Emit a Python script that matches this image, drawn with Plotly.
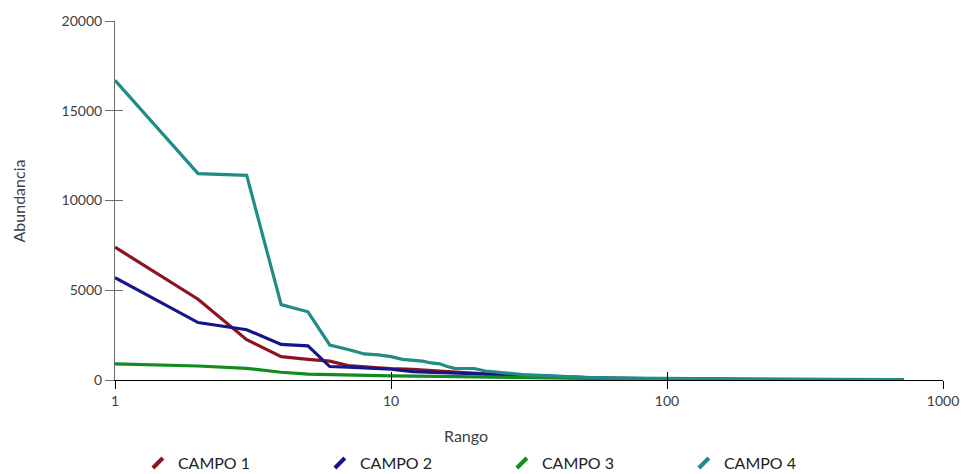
import plotly.graph_objects as go

# Rank-abundance data per field (rank -> abundance)
rank_c1 = [1, 2, 3, 4, 5, 6, 7, 8, 9, 10, 12, 15, 18, 22, 25, 30, 40, 60, 100, 200, 400, 720]
abund_c1 = [7400, 4500, 2250, 1300, 1150, 1050, 800, 720, 680, 640, 600, 500, 420, 340, 300, 220, 150, 90, 50, 25, 10, 3]

rank_c2 = [1, 2, 3, 4, 5, 6, 7, 8, 10, 12, 15, 20, 25, 30, 40, 60, 100, 200, 400, 720]
abund_c2 = [5700, 3200, 2800, 1980, 1900, 750, 720, 680, 600, 470, 420, 340, 280, 220, 160, 100, 60, 30, 12, 3]

rank_c3 = [1, 2, 3, 4, 5, 6, 7, 8, 10, 15, 20, 30, 50, 100, 200, 400, 720]
abund_c3 = [900, 780, 650, 430, 330, 300, 280, 260, 230, 200, 170, 120, 60, 30, 15, 8, 2]

rank_c4 = [1, 2, 3, 4, 5, 6, 7, 8, 9, 10, 11, 12, 13, 14, 15, 16, 17, 18, 19, 20, 22, 25,
           30, 40, 50, 70, 100, 200, 400, 720]
abund_c4 = [16700, 11500, 11400, 4200, 3800, 1950, 1700, 1450, 1400, 1300, 1150, 1120, 1050,
            950, 900, 750, 650, 640, 650, 640, 500, 400, 300, 220, 150, 100, 80, 50, 30, 20]

series_names = ["CAMPO 1", "CAMPO 2", "CAMPO 3", "CAMPO 4"]
series_colors = ["#8c1420", "#16168c", "#128c1e", "#1f8c86"]

x_ticks = [1, 10, 100, 1000]
x_tick_text = ["1", "10", "100", "1000"]
y_ticks = [0, 5000, 10000, 15000, 20000]
y_tick_text = ["0", "5000", "10000", "15000", "20000"]

FONT = "Lato"

fig = go.Figure()

for name, xs, ys, col in zip(series_names,
                             [rank_c1, rank_c2, rank_c3, rank_c4],
                             [abund_c1, abund_c2, abund_c3, abund_c4],
                             series_colors):
    fig.add_trace(go.Scatter(x=xs, y=ys, mode="lines", name=name,
                             line=dict(color=col, width=3.2), showlegend=False))

# Legend keys drawn as short slanted strokes
for name, col in zip(series_names, series_colors):
    fig.add_trace(go.Scatter(x=[None], y=[None], mode="markers", name=name,
                             marker=dict(symbol="line-ne", size=10,
                                         line=dict(color=col, width=4))))

# Empty trace so the overlay axes (inner tick halves) get drawn
fig.add_trace(go.Scatter(x=[None], y=[None], xaxis="x2", yaxis="y2",
                         showlegend=False, hoverinfo="skip"))

fig.update_layout(
    width=971, height=474,
    margin=dict(l=115, r=24, t=17, b=94),
    paper_bgcolor="white", plot_bgcolor="white",
    font=dict(family=FONT, size=14, color="#404040"),
    xaxis=dict(type="log", range=[0, 3], tickvals=x_ticks, ticktext=x_tick_text,
               ticks="outside", ticklen=8, tickcolor="#000", tickwidth=1,
               showline=True, linecolor="#000", linewidth=1,
               showgrid=False, zeroline=False, tickfont=dict(size=14, color="#404040")),
    yaxis=dict(range=[0, 20000], tickvals=y_ticks, ticktext=y_tick_text,
               ticks="outside", ticklen=9, tickcolor="#6e6e6e", tickwidth=1,
               showline=True, linecolor="#6e6e6e", linewidth=1,
               showgrid=False, zeroline=False, tickfont=dict(size=14, color="#404040")),
    xaxis2=dict(type="log", range=[0, 3], overlaying="x", anchor="y2",
                tickvals=x_ticks, ticks="inside", ticklen=8, tickcolor="#000",
                showticklabels=False, showline=False, showgrid=False, zeroline=False),
    yaxis2=dict(range=[0, 20000], overlaying="y", anchor="x2", side="left",
                tickvals=y_ticks, ticks="inside", ticklen=8, tickcolor="#6e6e6e",
                showticklabels=False, showline=False, showgrid=False, zeroline=False),
    legend=dict(orientation="h", xref="container", yref="container",
                x=0.142, y=0.023, xanchor="left", yanchor="middle",
                entrywidth=137, entrywidthmode="pixels",
                font=dict(family=FONT, size=16, color="#222222"),
                bgcolor="rgba(0,0,0,0)"),
    annotations=[
        dict(text="Rango", xref="paper", yref="paper", x=0.424, y=-0.155,
             xanchor="center", yanchor="middle",
             showarrow=False, font=dict(size=16, color="#404040")),
        dict(text="Abundancia", xref="paper", yref="paper", x=-0.116, y=0.5,
             xanchor="center", yanchor="middle",
             textangle=-90, showarrow=False, font=dict(size=16, color="#404040")),
    ],
)

fig.write_html("out.html")
